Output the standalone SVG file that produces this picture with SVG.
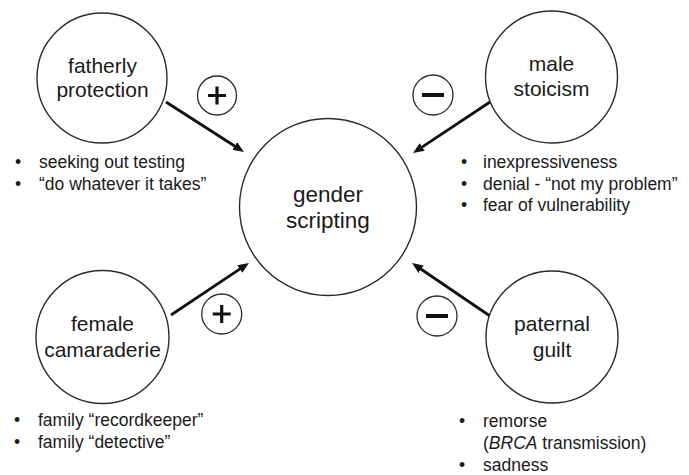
<svg xmlns="http://www.w3.org/2000/svg" width="689" height="475" viewBox="0 0 689 475">
  <style>
    .node { fill: #ffffff; stroke: #2b2b2b; stroke-width: 1.4; }
    .label { font-family: "Liberation Sans", Arial, sans-serif; font-size: 21px; fill: #1a1a1a; text-anchor: middle; }
    .center-label { font-size: 22.5px; }
    .list { font-family: "Liberation Sans", Arial, sans-serif; font-size: 17.5px; fill: #1a1a1a; }
    .link { stroke: #111111; stroke-width: 2.8; fill: none; marker-end: url(#head); }
    .sign { fill: #ffffff; stroke: #2b2b2b; stroke-width: 1.3; }
    .mark { stroke: #111111; stroke-width: 3.2; fill: none; }
    .bar { stroke: #111111; stroke-width: 4; fill: none; }
  </style>
  <defs>
    <marker id="head" markerUnits="userSpaceOnUse" markerWidth="12" markerHeight="10" refX="3" refY="4.5" orient="auto">
      <path d="M0,0 L11,4.5 L0,9 z" fill="#111111"/>
    </marker>
  </defs>

  <rect width="689" height="475" fill="#ffffff"/>

  <!-- influences pointing at the central node -->
  <g id="connectors">
    <line class="link" x1="166" y1="102" x2="237.3" y2="147.7"/>
    <line class="link" x1="490" y1="102" x2="419.7" y2="148.6"/>
    <line class="link" x1="171" y1="315" x2="242.3" y2="267.4"/>
    <line class="link" x1="490" y1="316" x2="418.6" y2="267.5"/>
  </g>

  <!-- polarity badges -->
  <g id="sign-plus-top">
    <circle class="sign" cx="217" cy="95.5" r="19.5"/>
    <path class="mark" d="M208,95.5 H226 M217,86.5 V104.5"/>
  </g>
  <g id="sign-minus-top">
    <circle class="sign" cx="433" cy="95" r="20"/>
    <path class="bar" d="M422,95 H444"/>
  </g>
  <g id="sign-plus-bottom">
    <circle class="sign" cx="221.7" cy="314" r="20"/>
    <path class="mark" d="M212.7,314 H230.7 M221.7,305 V323"/>
  </g>
  <g id="sign-minus-bottom">
    <circle class="sign" cx="437" cy="316" r="20"/>
    <path class="bar" d="M426,316 H448"/>
  </g>

  <g id="gender-scripting">
    <circle class="node" cx="328" cy="207" r="88.5"/>
    <text class="label center-label" x="328" y="202">gender</text>
    <text class="label center-label" x="328" y="228">scripting</text>
  </g>

  <g id="fatherly-protection">
    <circle class="node" cx="102" cy="78" r="65"/>
    <text class="label" x="102.5" y="73">fatherly</text>
    <text class="label" x="102.5" y="97">protection</text>
    <g class="list">
      <text x="15" y="168">•</text>
      <text x="39" y="168">seeking out testing</text>
      <text x="15" y="189.5">•</text>
      <text x="39" y="189.5">“do whatever it takes”</text>
    </g>
  </g>

  <g id="male-stoicism">
    <circle class="node" cx="551.5" cy="77" r="66"/>
    <text class="label" x="551.5" y="71">male</text>
    <text class="label" x="551.5" y="96">stoicism</text>
    <g class="list">
      <text x="461" y="168">•</text>
      <text x="483" y="168">inexpressiveness</text>
      <text x="461" y="189.5">•</text>
      <text x="483" y="189.5">denial - “not my problem”</text>
      <text x="461" y="211">•</text>
      <text x="483" y="211">fear of vulnerability</text>
    </g>
  </g>

  <g id="female-camaraderie">
    <circle class="node" cx="102.5" cy="337" r="66.5"/>
    <text class="label" x="102.5" y="331">female</text>
    <text class="label" x="102.5" y="357">camaraderie</text>
    <g class="list">
      <text x="14" y="426">•</text>
      <text x="38" y="426">family “recordkeeper”</text>
      <text x="14" y="448">•</text>
      <text x="38" y="448">family “detective”</text>
    </g>
  </g>

  <g id="paternal-guilt">
    <circle class="node" cx="552" cy="337" r="66"/>
    <text class="label" x="552" y="331">paternal</text>
    <text class="label" x="552" y="356.5">guilt</text>
    <g class="list">
      <text x="459" y="426.5">•</text>
      <text x="483" y="426.5">remorse</text>
      <text x="483" y="449">(<tspan font-style="italic">BRCA</tspan> transmission)</text>
      <text x="459" y="471">•</text>
      <text x="483" y="471">sadness</text>
    </g>
  </g>
</svg>
